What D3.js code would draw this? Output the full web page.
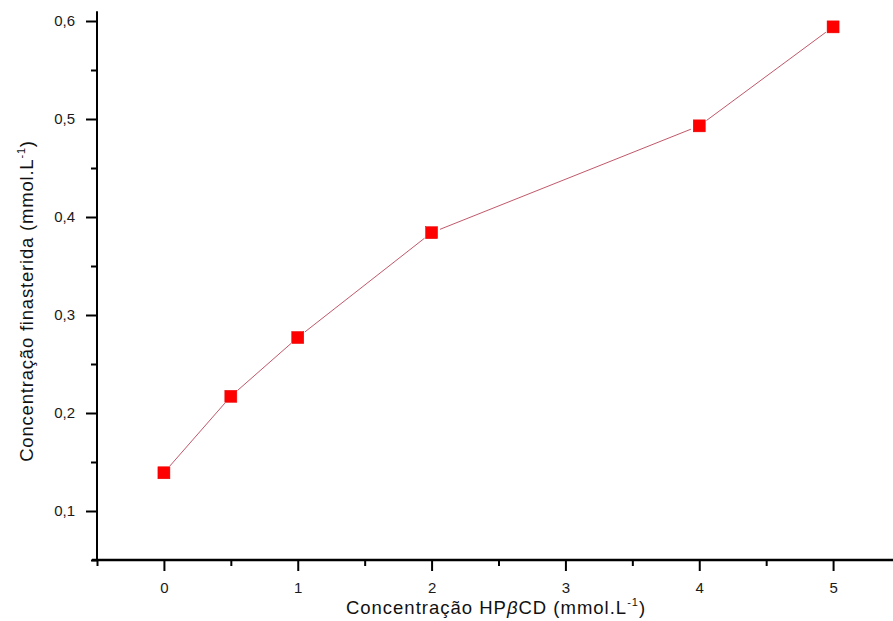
<!DOCTYPE html>
<html>
<head>
<meta charset="utf-8">
<script src="https://cdn.jsdelivr.net/npm/d3@7/dist/d3.min.js"></script>
<style>
  html, body { margin: 0; padding: 0; background: #fff; }
  svg { display: block; font-family: "Liberation Sans", Arial, sans-serif; }
</style>
</head>
<body>
<svg id="chart" width="893" height="621"></svg>
<script>
// Solubility data: HPβCD concentration vs. dissolved finasteride (mmol.L-1)
const hpbcd = [0, 0.5, 1, 2, 4, 5];
const finasterida = [0.139, 0.217, 0.277, 0.384, 0.493, 0.594];

const xMajorTicks = [0, 1, 2, 3, 4, 5];
const xMinorTicks = [-0.5, 0.5, 1.5, 2.5, 3.5, 4.5, 5.5];
const yMajorTicks = [0.1, 0.2, 0.3, 0.4, 0.5, 0.6];
const yMinorTicks = [0.05, 0.15, 0.25, 0.35, 0.45, 0.55];

const svg = d3.select("#chart");

const x = d3.scaleLinear().domain([-0.5, 5.5]).range([97, 900]);
const y = d3.scaleLinear().domain([0.05, 0.61]).range([560, 11.2]);

const comma = d => d3.format(".1f")(d).replace(".", ",");

// minor ticks
svg.append("g")
  .attr("transform", `translate(0,${y(0.05)})`)
  .call(d3.axisBottom(x).tickValues(xMinorTicks).tickSize(6).tickFormat(""))
  .call(g => g.select(".domain").remove())
  .call(g => g.selectAll("line").attr("stroke", "#000").attr("stroke-width", 2));

svg.append("g")
  .attr("transform", `translate(${x(-0.5)},0)`)
  .call(d3.axisLeft(y).tickValues(yMinorTicks).tickSize(6).tickFormat(""))
  .call(g => g.select(".domain").remove())
  .call(g => g.selectAll("line").attr("stroke", "#000").attr("stroke-width", 2));

// major ticks + labels
const xAxis = svg.append("g")
  .attr("transform", `translate(0,${y(0.05)})`)
  .call(d3.axisBottom(x).tickValues(xMajorTicks).tickSize(11).tickPadding(11).tickFormat(d3.format("d")));
xAxis.attr("font-size", 15).attr("font-family", "Liberation Sans, Arial, sans-serif");
xAxis.select(".domain").remove();
xAxis.selectAll("line").attr("stroke", "#000").attr("stroke-width", 2);
xAxis.selectAll("text").attr("fill", "#1a1a1a");

const yAxis = svg.append("g")
  .attr("transform", `translate(${x(-0.5)},0)`)
  .call(d3.axisLeft(y).tickValues(yMajorTicks).tickSize(11).tickPadding(11).tickFormat(comma));
yAxis.attr("font-size", 15).attr("font-family", "Liberation Sans, Arial, sans-serif");
yAxis.select(".domain").remove();
yAxis.selectAll("line").attr("stroke", "#000").attr("stroke-width", 2);
yAxis.selectAll("text").attr("fill", "#1a1a1a");

// axis lines
svg.append("line")
  .attr("x1", x(-0.5) - 5).attr("x2", 893)
  .attr("y1", y(0.05)).attr("y2", y(0.05))
  .attr("stroke", "#000").attr("stroke-width", 2.5);
svg.append("line")
  .attr("x1", x(-0.5)).attr("x2", x(-0.5))
  .attr("y1", y(0.61)).attr("y2", y(0.05))
  .attr("stroke", "#000").attr("stroke-width", 2);

// connecting segments, stopping short of each marker
const pts = hpbcd.map((v, i) => [x(v), y(finasterida[i])]);
const gap = 9;
const segs = d3.pairs(pts).map(([a, b]) => {
  const dx = b[0] - a[0], dy = b[1] - a[1];
  const len = Math.hypot(dx, dy);
  const ux = dx / len, uy = dy / len;
  return [[a[0] + ux * gap, a[1] + uy * gap], [b[0] - ux * gap, b[1] - uy * gap]];
});
svg.append("g").selectAll("line").data(segs).join("line")
  .attr("x1", d => d[0][0]).attr("y1", d => d[0][1])
  .attr("x2", d => d[1][0]).attr("y2", d => d[1][1])
  .attr("stroke", "#c0586a").attr("stroke-width", 1);

// square markers
const size = 12;
svg.append("g").selectAll("rect").data(hpbcd).join("rect")
  .attr("x", d => x(d) - size / 2)
  .attr("y", (d, i) => y(finasterida[i]) - size / 2)
  .attr("width", size).attr("height", size)
  .attr("fill", "#ff0000").attr("stroke", "#e80000").attr("stroke-width", 0.5);

// axis titles
const xt = svg.append("text")
  .attr("x", 496).attr("y", 614)
  .attr("text-anchor", "middle")
  .attr("font-size", 18.5).attr("letter-spacing", 1).attr("fill", "#111");
xt.append("tspan").text("Concentração HP");
xt.append("tspan").attr("font-style", "italic").text("β");
xt.append("tspan").text("CD (mmol.L");
xt.append("tspan").attr("font-size", 11).attr("dy", -8).text("-1");
xt.append("tspan").attr("dy", 8).text(")");

const yt = svg.append("text")
  .attr("transform", "translate(33,301) rotate(-90)")
  .attr("text-anchor", "middle")
  .attr("font-size", 18.5).attr("letter-spacing", 0.8).attr("fill", "#111");
yt.append("tspan").text("Concentração finasterida (mmol.L");
yt.append("tspan").attr("font-size", 11).attr("dy", -8).text("-1");
yt.append("tspan").attr("dy", 8).text(")");
</script>
</body>
</html>
